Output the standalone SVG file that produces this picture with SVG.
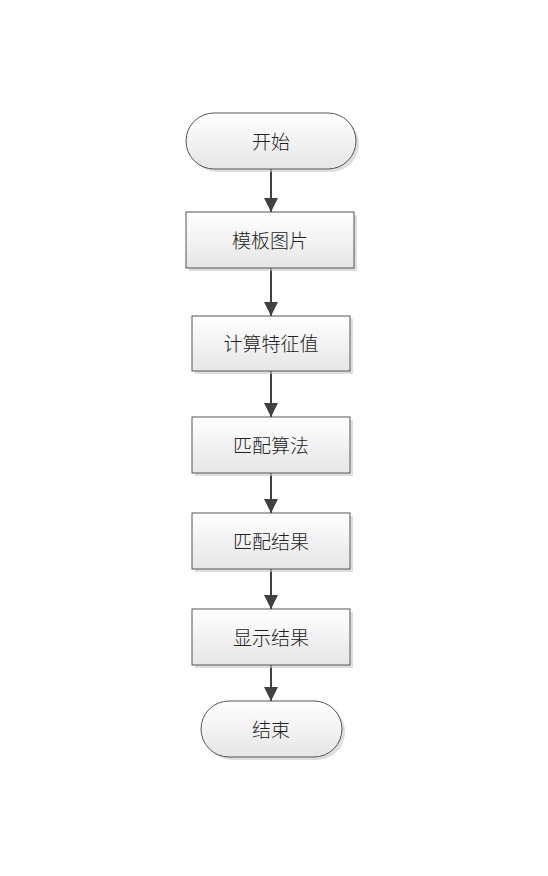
<svg xmlns="http://www.w3.org/2000/svg" width="548" height="876" viewBox="0 0 548 876">
<style>
.s{fill:url(#g);stroke:#555;stroke-width:1}
.sh{fill:#c8c8c8;opacity:0.6}
.t{font-family:"Noto Sans CJK SC","Liberation Serif",serif;font-size:19px;font-weight:300;fill:#222;text-anchor:middle;dominant-baseline:central}
.c{stroke:#404040;stroke-width:2;fill:none;marker-end:url(#a)}
</style>
<defs>
<linearGradient id="g" x1="0" y1="0" x2="0" y2="1">
<stop offset="0" stop-color="#ffffff"/>
<stop offset="1" stop-color="#e6e6e6"/>
</linearGradient>
<marker id="a" viewBox="0 0 14 14" refX="14" refY="7" markerWidth="14" markerHeight="14" markerUnits="userSpaceOnUse" orient="auto">
<path d="M0,0 L14,7 L0,14 Z" fill="#404040"/>
</marker>
</defs>
<rect width="548" height="876" fill="#fff"/>
<g id="connectors">
<line class="c" x1="271" y1="169" x2="271" y2="212"/>
<line class="c" x1="271" y1="268" x2="271" y2="316"/>
<line class="c" x1="271" y1="371" x2="271" y2="417"/>
<line class="c" x1="271" y1="473" x2="271" y2="513"/>
<line class="c" x1="271" y1="569" x2="271" y2="609"/>
<line class="c" x1="271" y1="665" x2="271" y2="701"/>
</g>
<g id="start">
<rect class="sh" x="189" y="116" width="170" height="56" rx="28"/>
<rect class="s" x="186" y="113" width="170" height="56" rx="28"/>
<text class="t" x="271" y="140">开始</text>
</g>
<g id="n1">
<rect class="sh" x="189" y="215" width="168" height="56"/>
<rect class="s" x="186" y="212" width="168" height="56"/>
<text class="t" x="270" y="239">模板图片</text>
</g>
<g id="n2">
<rect class="sh" x="195" y="319" width="158" height="55"/>
<rect class="s" x="192" y="316" width="158" height="55"/>
<text class="t" x="271" y="342">计算特征值</text>
</g>
<g id="n3">
<rect class="sh" x="195" y="420" width="158" height="56"/>
<rect class="s" x="192" y="417" width="158" height="56"/>
<text class="t" x="271" y="444">匹配算法</text>
</g>
<g id="n4">
<rect class="sh" x="195" y="516" width="158" height="56"/>
<rect class="s" x="192" y="513" width="158" height="56"/>
<text class="t" x="271" y="540">匹配结果</text>
</g>
<g id="n5">
<rect class="sh" x="195" y="612" width="158" height="56"/>
<rect class="s" x="192" y="609" width="158" height="56"/>
<text class="t" x="271" y="636">显示结果</text>
</g>
<g id="end">
<rect class="sh" x="204" y="704" width="141" height="56" rx="28"/>
<rect class="s" x="201" y="701" width="141" height="56" rx="28"/>
<text class="t" x="271" y="728">结束</text>
</g>
</svg>
